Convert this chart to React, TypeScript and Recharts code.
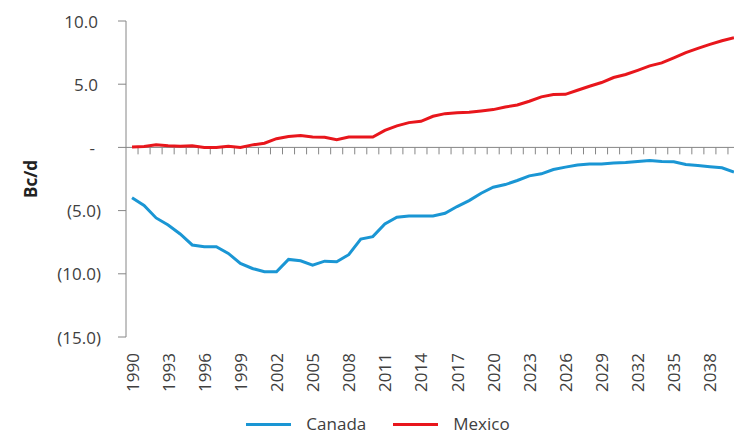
import { LineChart, Line, XAxis, YAxis, ReferenceLine, Legend, Label } from "recharts";

const years = [
  1990, 1991, 1992, 1993, 1994, 1995, 1996, 1997, 1998, 1999,
  2000, 2001, 2002, 2003, 2004, 2005, 2006, 2007, 2008, 2009,
  2010, 2011, 2012, 2013, 2014, 2015, 2016, 2017, 2018, 2019,
  2020, 2021, 2022, 2023, 2024, 2025, 2026, 2027, 2028, 2029,
  2030, 2031, 2032, 2033, 2034, 2035, 2036, 2037, 2038, 2039,
  2040,
];

// net trade, Bc/d (negative = net imports)
const canada = [
  -3.99, -4.6, -5.58, -6.14, -6.85, -7.72, -7.86, -7.86, -8.39, -9.18,
  -9.58, -9.84, -9.84, -8.86, -8.97, -9.31, -9.0, -9.05, -8.49, -7.25,
  -7.06, -6.06, -5.53, -5.42, -5.42, -5.42, -5.21, -4.68, -4.21, -3.63,
  -3.15, -2.94, -2.62, -2.25, -2.09, -1.75, -1.56, -1.4, -1.32, -1.32,
  -1.24, -1.19, -1.11, -1.03, -1.11, -1.13, -1.35, -1.43, -1.53, -1.61,
  -1.96,
];

const mexico = [
  0.03, 0.08, 0.2, 0.13, 0.1, 0.13, 0.0, 0.0, 0.1, 0.0,
  0.2, 0.33, 0.69, 0.87, 0.95, 0.82, 0.8, 0.6, 0.82, 0.82,
  0.82, 1.35, 1.7, 1.96, 2.06, 2.46, 2.67, 2.75, 2.78, 2.88,
  2.99, 3.2, 3.36, 3.65, 4.0, 4.18, 4.2, 4.52, 4.84, 5.13,
  5.53, 5.77, 6.1, 6.45, 6.69, 7.09, 7.5, 7.83, 8.15, 8.44,
  8.67,
];

const yearTicks = [1990, 1993, 1996, 1999, 2002, 2005, 2008, 2011, 2014, 2017, 2020, 2023, 2026, 2029, 2032, 2035, 2038];
const valueTicks = [-15, -10, -5, 0, 5, 10];

const data = years.map((year, i) => ({ year, Canada: canada[i], Mexico: mexico[i] }));

// tick marks sit between the years, hanging off the zero line
const boundaries = years.map((y) => y + 0.5);

const FONT = '"Open Sans", sans-serif';
const TEXT = "#404040";
const AXIS = "#868686";

const formatValue = (v: number) => {
  if (v === 0) return "-";
  if (v < 0) return `(${Math.abs(v).toFixed(1)})`;
  return v.toFixed(1);
};

const YTick = (props: any) => {
  const { x, y, payload } = props;
  const v = payload.value;
  // accounting-style alignment: positives leave room for ")", the dash sits further in
  const dx = v === 0 ? -6 : v > 0 ? -3 : 0;
  return (
    <text x={x + dx} y={y} textAnchor="end" dominantBaseline="central" fontFamily={FONT} fontSize={17} fill={TEXT}>
      {formatValue(v)}
    </text>
  );
};

const XTick = (props: any) => {
  const { x, y, payload } = props;
  return (
    <text
      x={x}
      y={y}
      transform={`rotate(-90 ${x} ${y})`}
      textAnchor="end"
      dominantBaseline="central"
      fontFamily={FONT}
      fontSize={17}
      fill={TEXT}
    >
      {payload.value}
    </text>
  );
};

const LegendContent = (props: any) => {
  const { payload } = props;
  return (
    <div
      style={{
        display: "flex",
        justifyContent: "center",
        alignItems: "center",
        paddingTop: 6,
        paddingLeft: 16,
        fontFamily: FONT,
        fontSize: 17,
        lineHeight: "16px",
        color: TEXT,
      }}
    >
      {payload.map((entry: any, i: number) => (
        <div key={entry.value} style={{ display: "flex", alignItems: "center", marginLeft: i === 0 ? 0 : 27 }}>
          <span style={{ display: "inline-block", width: 45, height: 3, background: entry.color, marginRight: 15 }} />
          <span>{entry.value}</span>
        </div>
      ))}
    </div>
  );
};

export default function App() {
  return (
    <div
      style={{
        position: "fixed",
        left: 0,
        top: 0,
        width: 734,
        height: 436,
        overflow: "hidden",
        background: "#fff",
        fontFamily: FONT,
      }}
    >
      <LineChart width={742} height={436} data={data} margin={{ top: 21, right: 2, left: 0, bottom: 0 }}>
        <XAxis
          dataKey="year"
          type="number"
          domain={[1989.5, 2040.5]}
          ticks={yearTicks}
          axisLine={false}
          tickLine={false}
          tickSize={0}
          tickMargin={16}
          height={73}
          interval={0}
          tick={<XTick />}
        />
        <YAxis
          type="number"
          domain={[-15, 10]}
          ticks={valueTicks}
          width={126}
          axisLine={{ stroke: AXIS }}
          tickLine={{ stroke: AXIS }}
          tickSize={8}
          tickMargin={17}
          interval={0}
          tick={<YTick />}
        >
          <Label
            content={(p: any) => {
              const { x, y, height } = p.viewBox;
              const cx = x + 30;
              const cy = y + height / 2;
              return (
                <text
                  x={cx}
                  y={cy}
                  transform={`rotate(-90 ${cx} ${cy})`}
                  textAnchor="middle"
                  dominantBaseline="central"
                  fontFamily={FONT}
                  fontSize={17}
                  fontWeight="bold"
                  fill="#222"
                >
                  Bc/d
                </text>
              );
            }}
          />
        </YAxis>
        <ReferenceLine y={0} stroke={AXIS} strokeWidth={1} />
        {boundaries.map((b) => (
          <ReferenceLine
            key={b}
            segment={[
              { x: b, y: 0 },
              { x: b, y: -0.55 },
            ]}
            stroke={AXIS}
            strokeWidth={1}
          />
        ))}
        <Line
          type="linear"
          dataKey="Canada"
          stroke="#1A96D4"
          strokeWidth={3}
          dot={false}
          isAnimationActive={false}
        />
        <Line
          type="linear"
          dataKey="Mexico"
          stroke="#E8161C"
          strokeWidth={3}
          dot={false}
          isAnimationActive={false}
        />
        <Legend verticalAlign="bottom" height={26} content={<LegendContent />} />
      </LineChart>
    </div>
  );
}
